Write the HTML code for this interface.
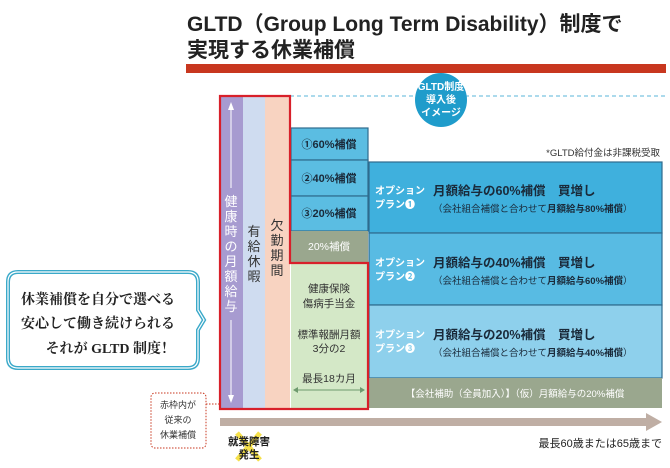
<!DOCTYPE html>
<html><head><meta charset="utf-8"><style>
body{margin:0;background:#fff;}
svg{display:block;font-family:"Liberation Sans","Noto Sans CJK JP",sans-serif;}
.s{font-family:"Liberation Serif","Noto Serif CJK SC",serif;}
</style></head><body>
<svg width="670" height="468" viewBox="0 0 670 468" xmlns="http://www.w3.org/2000/svg">
<text x="187" y="31" font-size="21" font-weight="bold" fill="#222">GLTD（Group Long Term Disability）制度で</text>
<text x="187" y="57" font-size="21" font-weight="bold" fill="#222">実現する休業補償</text>
<rect x="186" y="64" width="480" height="9" fill="#c8371f"/>
<line x1="290" y1="96" x2="666" y2="96" stroke="#5ab4d8" stroke-width="1" stroke-dasharray="4,3"/>
<ellipse cx="441" cy="100" rx="26" ry="27" fill="#1f9ccb"/>
<text fill="#fff" font-size="10" font-weight="bold" text-anchor="middle"><tspan x="441" y="90">GLTD制度</tspan><tspan x="441" y="103">導入後</tspan><tspan x="441" y="116">イメージ</tspan></text>
<text x="660" y="156" font-size="9.5" fill="#333" text-anchor="end">*GLTD給付金は非課税受取</text>
<rect x="220" y="96" width="23" height="312" fill="#a79bd0"/>
<rect x="243" y="96" width="22" height="312" fill="#cfdcf0"/>
<rect x="265" y="96" width="25" height="312" fill="#f8d3c1"/>
<line x1="231" y1="106" x2="231" y2="188" stroke="#fff" stroke-width="1"/>
<polygon points="231,102 228,110 234,110" fill="#fff"/>
<line x1="231" y1="320" x2="231" y2="398" stroke="#fff" stroke-width="1"/>
<polygon points="231,403 228,395 234,395" fill="#fff"/>
<text fill="#fff" font-size="13" text-anchor="middle"><tspan x="231" y="206">健</tspan><tspan x="231" y="221">康</tspan><tspan x="231" y="236">時</tspan><tspan x="231" y="251">の</tspan><tspan x="231" y="266">月</tspan><tspan x="231" y="281">額</tspan><tspan x="231" y="296">給</tspan><tspan x="231" y="311">与</tspan></text>
<text fill="#333" font-size="13" text-anchor="middle"><tspan x="254" y="236">有</tspan><tspan x="254" y="251">給</tspan><tspan x="254" y="266">休</tspan><tspan x="254" y="281">暇</tspan></text>
<text fill="#333" font-size="13" text-anchor="middle"><tspan x="277" y="230">欠</tspan><tspan x="277" y="245">勤</tspan><tspan x="277" y="260">期</tspan><tspan x="277" y="275">間</tspan></text>
<g stroke="#2f6b8e" stroke-width="1.2">
<rect x="291" y="128" width="77" height="32" fill="#5bbde2"/>
<rect x="291" y="160" width="77" height="36" fill="#5bbde2"/>
<rect x="291" y="196" width="77" height="35" fill="#5bbde2"/>
</g>
<g font-size="11" font-weight="bold" fill="#1a2a3a" text-anchor="middle">
<text x="329" y="148">①60%補償</text><text x="329" y="182">②40%補償</text><text x="329" y="217">③20%補償</text></g>
<rect x="291" y="231" width="77" height="32" fill="#9aa78e"/>
<text x="329" y="250" font-size="10.5" fill="#fff" text-anchor="middle">20%補償</text>
<rect x="291" y="263" width="77" height="145" fill="#d4e8c7"/>
<g font-size="10.5" fill="#333" text-anchor="middle">
<text x="329" y="292">健康保険</text><text x="329" y="307">傷病手当金</text>
<text x="329" y="338">標準報酬月額</text><text x="329" y="352">3分の2</text>
<text x="329" y="382">最長18カ月</text></g>
<line x1="296" y1="390" x2="362" y2="390" stroke="#6e9a6e"/>
<polygon points="293,390 298,387 298,393" fill="#6e9a6e"/><polygon points="365,390 360,387 360,393" fill="#6e9a6e"/>
<g stroke="#2f6b8e" stroke-width="1.2">
<rect x="369" y="162" width="293" height="71" fill="#3fb0dd"/>
<rect x="369" y="233" width="293" height="72" fill="#58bbe3"/>
<rect x="369" y="305" width="293" height="73" fill="#8ed0ec"/>
</g>
<g font-size="10" font-weight="bold" fill="#fff">
<text x="375" y="194">オプション</text><text x="375" y="208">プラン❶</text>
<text x="375" y="266">オプション</text><text x="375" y="280">プラン❷</text>
<text x="375" y="338">オプション</text><text x="375" y="352">プラン❸</text></g>
<g fill="#1a2a3a">
<text x="433" y="195" font-size="12.5" font-weight="bold">月額給与の60%補償　買増し</text>
<text x="433" y="212" font-size="9.5">（会社組合補償と合わせて<tspan font-weight="bold">月額給与80%補償</tspan>）</text>
<text x="433" y="267" font-size="12.5" font-weight="bold">月額給与の40%補償　買増し</text>
<text x="433" y="284" font-size="9.5">（会社組合補償と合わせて<tspan font-weight="bold">月額給与60%補償</tspan>）</text>
<text x="433" y="339" font-size="12.5" font-weight="bold">月額給与の20%補償　買増し</text>
<text x="433" y="356" font-size="9.5">（会社組合補償と合わせて<tspan font-weight="bold">月額給与40%補償</tspan>）</text></g>
<rect x="368" y="378" width="294" height="30" fill="#9aa78e"/>
<text x="515" y="397" font-size="9.5" fill="#fff" text-anchor="middle">【会社補助（全員加入）】（仮）月額給与の20%補償</text>
<polygon points="220,96 290,96 290,263 368,263 368,409 220,409" fill="none" stroke="#d8202a" stroke-width="2.2"/>
<rect x="220" y="418" width="428" height="8" fill="#bfaea4"/>
<polygon points="646,413 662,422 646,431" fill="#bfaea4"/>
<line x1="237" y1="433" x2="260" y2="460" stroke="#f5e04a" stroke-width="5"/>
<line x1="260" y1="433" x2="237" y2="460" stroke="#f5e04a" stroke-width="5"/>
<text x="249" y="445" font-size="10.5" font-weight="bold" fill="#222" text-anchor="middle">就業障害</text>
<text x="249" y="458" font-size="10.5" font-weight="bold" fill="#222" text-anchor="middle">発生</text>
<text x="662" y="447" font-size="11" fill="#222" text-anchor="end">最長60歳または65歳まで</text>
<rect x="151" y="393" width="55" height="55" rx="4" fill="#fff" stroke="#c8371f" stroke-dasharray="1.5,1.5"/>
<line x1="206" y1="404" x2="220" y2="404" stroke="#c8371f" stroke-dasharray="1.5,1.5"/>
<g font-size="9" fill="#333" text-anchor="middle"><text x="178" y="408">赤枠内が</text><text x="178" y="423">従来の</text><text x="178" y="438">休業補償</text></g>
<path d="M18,272 H188 Q198,272 198,282 V310 L204,320 L198,330 V358 Q198,368 188,368 H18 Q8,368 8,358 V282 Q8,272 18,272 Z" fill="#fff" stroke="#3aa9c9" stroke-width="4"/>
<path d="M18,272 H188 Q198,272 198,282 V310 L204,320 L198,330 V358 Q198,368 188,368 H18 Q8,368 8,358 V282 Q8,272 18,272 Z" fill="none" stroke="#fff" stroke-width="1.2"/>
<g class="s" font-size="14" font-weight="bold" fill="#222" text-anchor="end">
<text x="175" y="304">休業補償を自分で選べる</text>
<text x="175" y="328">安心して働き続けられる</text>
<text x="175" y="353">それが GLTD 制度！</text></g>
</svg>
</body></html>
